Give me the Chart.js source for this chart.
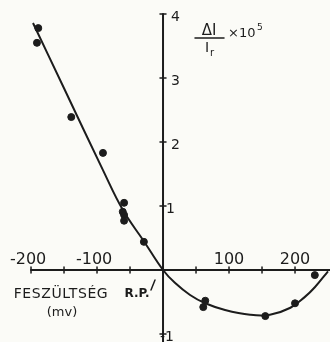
<!DOCTYPE html>
<html lang="hu">
<head>
  <meta charset="UTF-8">
  <title>Feszültség – ΔI/Ir</title>
  <script src="https://cdn.jsdelivr.net/npm/chart.js"></script>
  <style>
    * { box-sizing: border-box; }
    body { margin: 0; background: #fbfbf7; }
    #wrap { width: 330px; height: 342px; position: relative; }
  </style>
</head>
<body>
  <div id="wrap"><canvas id="chart"></canvas></div>
  <script>
    // measured points (mV, ΔI/Ir x 10^5)
    const voltage = [-189, -191, -139, -91, -59, -61, -59, -59, -29, 64, 61, 155, 200, 230];
    const ratio = [3.78, 3.55, 2.39, 1.83, 1.05, 0.91, 0.86, 0.77, 0.44, -0.48, -0.58, -0.72, -0.52, -0.08];
    // hand drawn curve
    const curveVoltage = [-197, -150, -91, -61, -29, 0, 18, 41, 64, 94, 132, 162, 193, 215, 230, 250];
    const curveRatio = [3.86, 2.84, 1.56, 0.94, 0.45, 0, -0.20, -0.39, -0.52, -0.625, -0.70, -0.70, -0.59, -0.42, -0.27, -0.02];
    // axes
    const xTicks = [-200, -150, -100, -50, 50, 100, 150, 200];
    const xTickLabels = ['-200', '-100', '100', '200'];
    const yTicks = [4, 3, 2, 1, -1];
    const yTickLabels = ['4', '3', '2', '1', '-1'];

    const ink = '#1c1c1c';
    const pts = (xs, ys) => xs.map((x, i) => ({ x, y: ys[i] }));

    const axesPlugin = {
      id: 'drafting',
      beforeDatasetsDraw(chart) {
        const { ctx, scales: { x, y } } = chart;
        const x0 = x.getPixelForValue(0), y0 = y.getPixelForValue(0);
        ctx.save();
        ctx.strokeStyle = ink; ctx.fillStyle = ink; ctx.lineWidth = 2; ctx.lineCap = 'round';
        // x axis
        ctx.beginPath(); ctx.moveTo(x.getPixelForValue(-200), y0); ctx.lineTo(chart.width, y0); ctx.stroke();
        // y axis
        ctx.beginPath(); ctx.moveTo(x0, y.getPixelForValue(4)); ctx.lineTo(x0, chart.height); ctx.stroke();
        ctx.lineWidth = 1.5;
        xTicks.forEach(v => { const p = x.getPixelForValue(v); ctx.beginPath(); ctx.moveTo(p, y0 - 3); ctx.lineTo(p, y0 + 3); ctx.stroke(); });
        yTicks.forEach(v => { const p = y.getPixelForValue(v); ctx.beginPath(); ctx.moveTo(x0 - 3, p); ctx.lineTo(x0 + 3, p); ctx.stroke(); });
        // x tick labels, digits centred on the tick, minus hanging left
        ctx.font = '16px "DejaVu Sans"'; ctx.textBaseline = 'alphabetic'; ctx.textAlign = 'right';
        xTickLabels.forEach(s => {
          const p = x.getPixelForValue(+s);
          const digits = s.replace('-', '');
          ctx.fillText(s, p + ctx.measureText(digits).width / 2, y0 - 6);
        });
        // y tick labels
        ctx.font = '14px "DejaVu Sans"'; ctx.textAlign = 'left'; ctx.textBaseline = 'middle';
        yTickLabels.forEach(s => {
          const p = y.getPixelForValue(+s);
          const off = s === '1' || s === '-1' ? 3 : 8;
          ctx.fillText(s, x0 + off - (s === '-1' ? 6 : 0), p + 3);
        });
        // axis title
        ctx.font = '14px "DejaVu Sans"'; ctx.textAlign = 'center'; ctx.textBaseline = 'alphabetic';
        ctx.letterSpacing = '0.6px';
        ctx.fillText('FESZÜLTSÉG', 61, 298);
        ctx.letterSpacing = '0px';
        ctx.font = '13px "DejaVu Sans"';
        ctx.fillText('(mv)', 62, 316);
        ctx.font = 'bold 12px "DejaVu Sans"';
        ctx.fillText('R.P.', 137, 297);
        ctx.lineWidth = 1.5;
        ctx.beginPath(); ctx.moveTo(151, 290); ctx.lineTo(155, 280); ctx.stroke();
        // ΔI / Ir × 10^5
        ctx.font = '15px "DejaVu Sans"';
        ctx.fillText('\u0394I', 209, 35);
        ctx.beginPath(); ctx.moveTo(195, 38); ctx.lineTo(224, 38); ctx.stroke();
        ctx.textAlign = 'left';
        ctx.font = '14px "DejaVu Sans"';
        ctx.fillText('I', 205, 52);
        ctx.font = '10px "DejaVu Sans"';
        ctx.fillText('r', 210, 56);
        ctx.font = '13px "DejaVu Sans"';
        ctx.fillText('\u00d710', 228, 37);
        ctx.font = '9px "DejaVu Sans"';
        ctx.fillText('5', 257, 30);
        ctx.restore();
      }
    };

    new Chart(document.getElementById('chart'), {
      type: 'scatter',
      data: {
        datasets: [
          { data: pts(curveVoltage, curveRatio), showLine: true, borderColor: ink, borderWidth: 2, pointRadius: 0, tension: 0.4, fill: false },
          { data: pts(voltage, ratio), backgroundColor: ink, borderColor: ink, pointRadius: 3.5, showLine: false }
        ]
      },
      options: {
        responsive: true, maintainAspectRatio: false, animation: false,
        layout: { padding: 0, autoPadding: false },
        plugins: { legend: { display: false }, tooltip: { enabled: false } },
        scales: {
          x: { type: 'linear', min: -247, max: 253, display: false },
          y: { type: 'linear', min: -1.125, max: 4.219, display: false }
        }
      },
      plugins: [axesPlugin]
    });
  </script>
</body>
</html>
